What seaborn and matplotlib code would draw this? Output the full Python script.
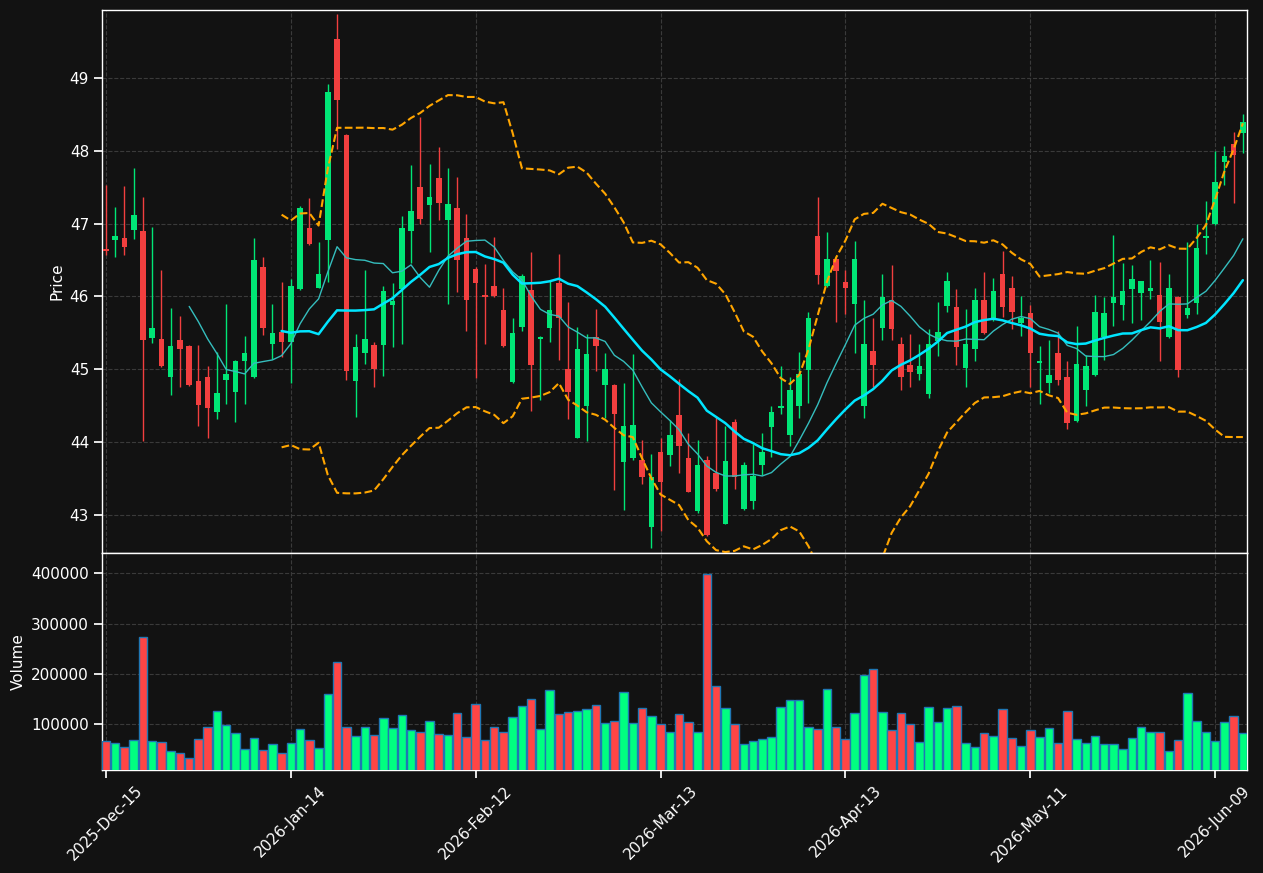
import numpy as np
import pandas as pd
import seaborn as sns
import matplotlib.pyplot as plt

# NYSE trading days, Dec 15 2025 -> Jun 12 2026
holidays = ["2025-12-25", "2026-01-01", "2026-01-19", "2026-02-16",
            "2026-04-03", "2026-05-25"]
dates = pd.bdate_range("2025-12-15", periods=124, freq="C", holidays=holidays)

opens = [46.65, 46.77, 46.80, 46.91, 46.90, 45.43, 45.42, 44.89, 45.40, 45.32,
         44.84, 44.89, 44.41, 44.85, 44.69, 45.11, 44.89, 46.41, 45.35, 45.51,
         45.38, 46.10, 46.94, 46.12, 46.77, 49.53, 48.22, 44.84, 45.23, 45.33,
         45.33, 45.88, 46.10, 46.90, 47.51, 47.26, 47.63, 47.05, 47.22, 46.80,
         46.38, 46.01, 46.14, 45.81, 44.82, 45.58, 46.09, 45.41, 45.57, 46.18,
         45.01, 44.06, 44.50, 45.44, 44.79, 44.79, 43.73, 43.78, 43.76, 42.84,
         43.86, 43.82, 44.37, 43.78, 43.05, 43.75, 43.57, 42.88, 44.27, 43.08,
         43.19, 43.69, 44.21, 44.47, 44.10, 44.50, 44.99, 46.83, 46.14, 46.52,
         46.20, 45.90, 44.50, 45.25, 45.56, 45.95, 45.35, 45.06, 44.94, 44.66,
         45.39, 45.87, 45.86, 45.02, 45.28, 45.95, 45.67, 46.31, 46.11, 45.63,
         45.77, 45.08, 44.81, 45.23, 44.89, 44.29, 44.72, 44.92, 45.44, 45.91,
         45.88, 46.10, 46.05, 46.07, 46.02, 45.44, 45.99, 45.75, 45.91, 46.80,
         46.99, 47.84, 48.10, 48.25]
highs = [47.53, 47.23, 47.52, 47.77, 47.37, 46.95, 46.36, 45.84, 45.73, 45.33,
         45.34, 45.05, 45.24, 45.89, 45.13, 45.46, 46.80, 46.54, 45.89, 46.20,
         46.24, 47.24, 47.35, 46.75, 48.92, 49.88, 48.23, 45.48, 46.36, 45.38,
         46.14, 46.18, 47.11, 47.80, 48.46, 47.82, 48.05, 47.77, 47.64, 47.13,
         46.40, 46.44, 46.81, 46.11, 45.70, 46.31, 46.61, 45.46, 46.22, 46.58,
         45.92, 45.58, 45.49, 45.83, 45.23, 44.80, 44.81, 45.21, 44.03, 43.83,
         44.06, 44.30, 44.87, 44.13, 44.03, 43.81, 44.34, 44.22, 44.32, 43.72,
         43.98, 44.12, 44.50, 45.05, 44.89, 45.24, 45.79, 47.36, 46.89, 46.53,
         46.37, 46.76, 45.95, 45.70, 46.31, 46.43, 45.44, 45.48, 45.35, 45.55,
         45.92, 46.33, 46.10, 45.83, 46.11, 46.34, 46.26, 46.62, 46.28, 46.00,
         45.88, 45.32, 45.40, 45.53, 45.11, 45.59, 45.20, 46.02, 45.99, 46.85,
         46.46, 46.43, 46.21, 46.50, 46.48, 46.31, 46.00, 46.75, 47.00, 47.31,
         48.00, 48.07, 48.26, 48.50]
lows = [46.57, 46.54, 46.57, 46.79, 44.02, 45.36, 45.03, 44.64, 44.76, 44.77,
        44.22, 44.05, 44.32, 44.52, 44.28, 44.52, 44.88, 45.47, 45.14, 45.17,
        44.81, 46.09, 46.71, 46.11, 46.20, 48.02, 44.85, 44.35, 45.07, 44.75,
        44.91, 45.30, 45.35, 46.46, 47.00, 46.61, 47.05, 45.89, 46.06, 45.52,
        44.88, 45.35, 45.99, 45.30, 44.81, 45.52, 44.43, 44.58, 45.38, 45.13,
        44.32, 44.05, 44.01, 44.98, 44.33, 43.34, 43.07, 43.76, 43.43, 42.55,
        42.78, 43.67, 43.57, 43.31, 43.03, 42.71, 43.33, 42.87, 43.36, 43.07,
        43.08, 43.55, 43.79, 44.38, 43.95, 44.33, 44.53, 46.17, 46.13, 45.65,
        45.76, 45.22, 44.33, 44.75, 45.40, 45.40, 44.71, 44.75, 44.85, 44.60,
        45.18, 45.78, 45.06, 44.75, 45.11, 45.49, 45.66, 45.72, 45.55, 45.46,
        44.75, 44.52, 44.68, 44.79, 44.18, 44.28, 44.49, 44.91, 45.13, 45.59,
        45.68, 45.63, 45.67, 45.96, 45.11, 45.43, 44.89, 45.70, 45.76, 46.59,
        46.98, 47.53, 47.28, 47.97]
closes = [46.62, 46.83, 46.68, 47.12, 45.40, 45.56, 45.04, 45.32, 45.28, 44.78,
          44.51, 44.47, 44.68, 44.93, 45.12, 45.23, 46.50, 45.56, 45.50, 45.38,
          46.14, 47.21, 46.72, 46.31, 48.81, 48.70, 44.98, 45.31, 45.41, 45.00,
          46.07, 45.94, 46.94, 47.18, 47.07, 47.37, 47.29, 47.27, 46.50, 45.95,
          46.18, 45.99, 46.00, 45.32, 45.50, 46.28, 45.06, 45.45, 45.81, 45.71,
          44.69, 45.28, 45.21, 45.32, 45.01, 44.38, 44.22, 44.24, 43.52, 43.52,
          43.45, 44.10, 43.94, 43.32, 43.68, 42.72, 43.35, 43.74, 43.52, 43.68,
          43.53, 43.86, 44.41, 44.49, 44.71, 44.94, 45.70, 46.30, 46.52, 46.35,
          46.11, 46.52, 45.35, 45.06, 45.99, 45.55, 44.89, 44.96, 45.04, 45.35,
          45.51, 46.21, 45.30, 45.35, 45.95, 45.50, 46.07, 45.86, 45.78, 45.71,
          45.23, 45.10, 44.92, 44.85, 44.26, 45.07, 45.04, 45.79, 45.77, 45.99,
          46.07, 46.24, 46.21, 46.11, 45.65, 46.11, 44.99, 45.84, 46.66, 46.83,
          47.57, 47.93, 47.94, 48.40]
volumes = [66400, 62500, 54600, 68400, 273800, 66400, 64500, 46700, 42700, 32800,
           70400, 96000, 127600, 98000, 82200, 50600, 72300, 48600, 60500, 42700,
           62500, 90100, 68400, 52600, 161200, 224400, 96000, 76300, 96000, 78300,
           111900, 92100, 119800, 88100, 84200, 107900, 80200, 78300, 123700, 74300,
           141500, 68400, 94100, 84200, 115800, 137500, 151400, 90100, 169100, 121700,
           125700, 127600, 131600, 139500, 102000, 107900, 165200, 102000, 133600, 117800,
           100000, 84200, 121700, 105900, 84200, 398300, 177000, 133600, 100000, 60500,
           66400, 70400, 74300, 135500, 149400, 149400, 96000, 90100, 171100, 94100,
           70400, 123700, 198800, 210600, 125700, 88100, 123700, 100000, 64500, 135500,
           104000, 133600, 137500, 62500, 54600, 82200, 76300, 131600, 72300, 56500,
           88100, 74300, 92100, 62500, 127600, 70400, 62500, 76300, 60500, 60500,
           50600, 72300, 94100, 84200, 84200, 46700, 68400, 163200, 107900, 84200,
           66400, 105900, 117800, 82200]

BG = "#121212"
UP, DOWN = "#00e676", "#f23f3f"
VUP, VDOWN = "#00ff80", "#ff4545"

df = pd.DataFrame({"date": dates, "open": opens, "high": highs, "low": lows,
                   "close": closes, "volume": volumes})
df["x"] = np.arange(len(df))
df["ma10"] = df["close"].rolling(10).mean()
df["ma20"] = df["close"].rolling(20).mean()
sd = df["close"].rolling(20).std()
df["bb_up"] = df["ma20"] + 2 * sd
df["bb_lo"] = df["ma20"] - 2 * sd
up = df["close"] >= df["open"]

sns.set_theme(style="darkgrid")
plt.rcParams.update({
    "figure.facecolor": BG, "axes.facecolor": BG, "axes.edgecolor": "white",
    "axes.labelcolor": "white", "xtick.color": "white", "ytick.color": "white",
    "text.color": "white", "grid.color": "#3a3a3a", "grid.linestyle": "--",
    "grid.linewidth": 0.8, "xtick.bottom": True, "ytick.left": True,
    "font.size": 11, "axes.labelsize": 11,
    "xtick.labelsize": 11, "ytick.labelsize": 11,
})
plt.rcParams["font.family"] = ["DejaVu Sans"]

fig, (ax, axv) = plt.subplots(2, 1, figsize=(12.63, 8.73), dpi=100, sharex=True,
                              gridspec_kw={"height_ratios": [5, 2], "hspace": 0})
fig.subplots_adjust(left=0.081, right=0.987, top=0.989, bottom=0.118)

# candles
ax.vlines(df["x"], df["low"], df["high"], colors=np.where(up, UP, DOWN),
          linewidth=1, zorder=2)
body_lo = np.minimum(df["open"], df["close"])
body_h = (df["open"] - df["close"]).abs().clip(lower=0.03)
ax.bar(df["x"], body_h, bottom=body_lo, width=0.6,
       color=np.where(up, UP, DOWN), linewidth=0, zorder=3)

# moving averages / bands
sns.lineplot(data=df, x="x", y="ma10", ax=ax, color="#35bdbd", linewidth=1, zorder=4)
sns.lineplot(data=df, x="x", y="ma20", ax=ax, color="#00e5ff", linewidth=1.8, zorder=4)
sns.lineplot(data=df, x="x", y="bb_up", ax=ax, color="#ffa500", linewidth=1.5,
             linestyle="--", zorder=4)
sns.lineplot(data=df, x="x", y="bb_lo", ax=ax, color="#ffa500", linewidth=1.5,
             linestyle="--", zorder=4)

ax.set_ylim(42.48, 49.94)
ax.set_ylabel("Price")
ax.set_xlabel("")

# volume
axv.bar(df["x"], df["volume"], width=0.92, color=np.where(up, VUP, VDOWN),
        edgecolor="#1f77b4", linewidth=1, zorder=3)
axv.set_ylim(9800, 440500)
axv.set_ylabel("Volume")
axv.set_yticks([100000, 200000, 300000, 400000])
axv.set_yticklabels(["100000", "200000", "300000", "400000"])

ticks = list(range(0, 121, 20))
axv.set_xticks(ticks)
axv.set_xticklabels([d.strftime("%Y-%b-%d") for d in df["date"].iloc[ticks]],
                    rotation=45)
axv.set_xlim(-0.4, 123.4)

for a in (ax, axv):
    a.grid(True, linestyle="--", color="#3a3a3a", linewidth=0.8)
    a.set_axisbelow(True)
    for s in a.spines.values():
        s.set_color("white")
        s.set_linewidth(1)

plt.savefig("out.png", facecolor=BG)
